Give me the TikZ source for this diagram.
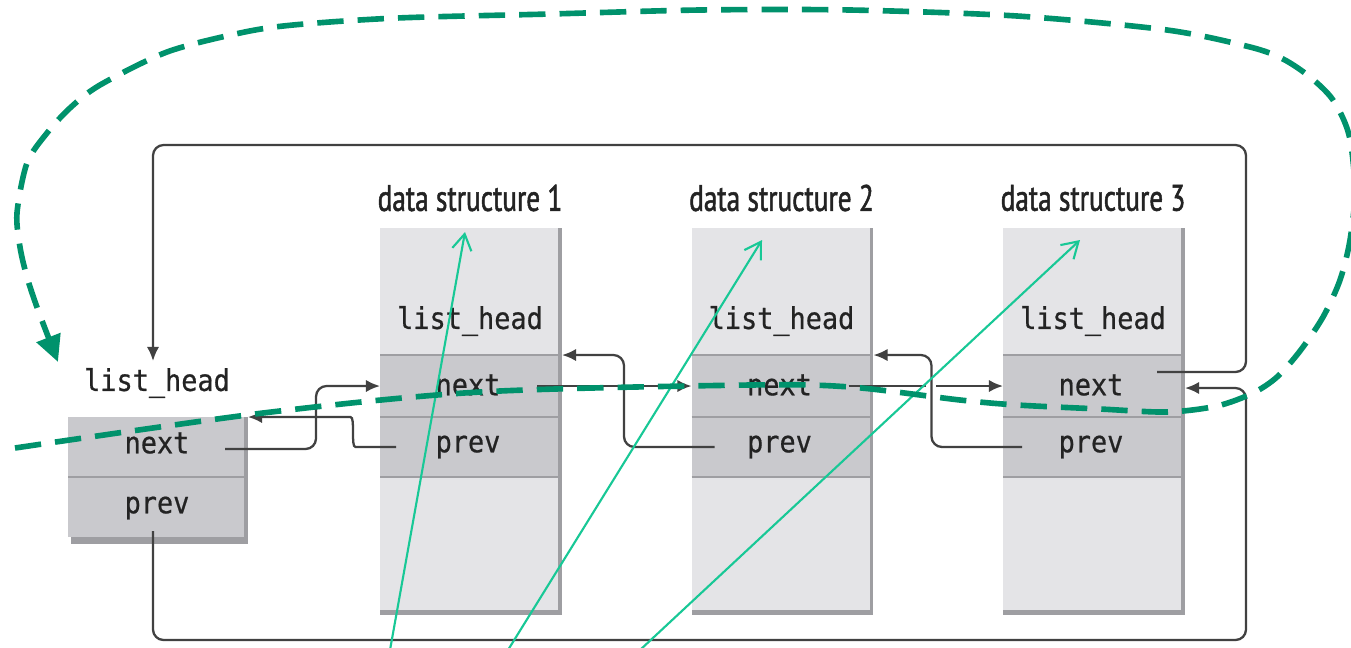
\documentclass[tikz,border=0pt]{standalone}
\usepackage{fontspec}
\usetikzlibrary{arrows.meta,calc}
\newfontfamily\monof[FakeStretch=0.9,FakeBold=0.6]{DejaVu Sans Mono}
\newfontfamily\condf[FakeStretch=0.74,FakeBold=1.3]{PT Sans}
\definecolor{dgreen}{RGB}{0,146,108}
\definecolor{lgreen}{RGB}{24,200,150}
\definecolor{boxlight}{RGB}{228,228,231}
\definecolor{boxdark}{RGB}{201,201,205}
\definecolor{boxedge}{RGB}{158,158,162}
\definecolor{txtc}{RGB}{35,35,35}
\definecolor{conncol}{RGB}{65,65,65}
\begin{document}
\begin{tikzpicture}[x=0.02cm,y=-0.02cm,
  sect/.style={draw=none, fill=#1, minimum width=3.64cm, inner sep=0pt, outer sep=0pt},
  mono/.style={font=\fontsize{17}{20}\selectfont\monof, text=txtc, inner sep=0pt},
  title/.style={font=\fontsize{21}{24}\selectfont\condf, text=txtc, inner sep=0pt},
  divider/.style={draw=boxedge, line width=1.6pt},
  conn/.style={draw=conncol, line width=1.3pt, -{Latex[length=8pt,width=7pt]}},
  loopline/.style={draw=conncol, line width=1.3pt, rounded corners=6pt},
  gline/.style={draw=lgreen, line width=1.2pt, -{Straight Barb[length=9pt,width=11pt]}},
  dline/.style={draw=dgreen, line width=3.2pt, dash pattern=on 15pt off 8pt, -{Triangle[length=15pt,width=14pt]}}
]
\useasboundingbox (0,0) rectangle (1351,647);
\fill[white] (0,0) rectangle (1351,647);

% data structures
\foreach \i/\cx in {1/471,2/782.5,3/1094}{
  \node[sect=boxlight, minimum height=2.54cm] (h\i) at (\cx,291.5) {};
  \node[sect=boxdark, minimum height=1.24cm] (n\i) at (\cx,386) {};
  \node[sect=boxdark, minimum height=1.2cm] (p\i) at (\cx,447) {};
  \node[sect=boxlight, minimum height=2.66cm] (b\i) at (\cx,543.5) {};
  \draw[divider] (n\i.north west) -- (n\i.north east);
  \draw[divider] (p\i.north west) -- (p\i.north east);
  \draw[divider] (b\i.north west) -- (b\i.north east);
  \draw[boxedge, line width=2pt] ([xshift=-1pt]h\i.north east) -- ([xshift=-1pt]b\i.south east);
  \fill[boxedge] (b\i.south west) rectangle ($(b\i.south east)+(0,5)$);
  \node[title] (t\i) at (\cx-1,198) {data structure \i};
  \node[mono] (l\i) at (\cx-1,321) {list\_head};
  \node[mono] (tn\i) at (\cx-3,385) {next};
  \node[mono] (tp\i) at (\cx-3,447) {prev};
}

% left list head
\node[sect=boxdark, minimum width=3.6cm, minimum height=1.2cm] (Ln) at (158,447) {};
\node[sect=boxdark, minimum width=3.6cm, minimum height=1.2cm] (Lp) at (158,507) {};
\draw[divider] (Lp.north west) -- (Lp.north east);
\draw[boxedge, line width=2pt] ([xshift=-1pt]Ln.north east) -- ([xshift=-1pt]Lp.south east);
\fill[boxedge] ($(Lp.south west)+(3,0)$) rectangle ($(Lp.south east)+(0,7)$);
\node[mono] (Lh) at (157,383) {list\_head};
\node[mono] (Ltn) at (157,443) {next};
\node[mono] (Ltp) at (157,508) {prev};

% outer loop lines
\coordinate (topin) at (153,361);
\draw[loopline, -{Latex[length=8pt,width=7pt]}] ($(n3.center)+(63,-14)$) -| (1246,145) -| (topin);
\draw[loopline, -{Latex[length=8pt,width=7pt]}] ($(Lp.south)+(-5,-6)$) |- (1246,640) |- ($(n3.east)+(0,2)$);

% next/prev connectors
\draw[conn, rounded corners=6pt] ($(Ln.center)+(67,2)$) -| ($(n1.west)+(-64,0)$) -- (n1.west);
\draw[conn, rounded corners=6pt] ($(p1.center)+(-75,0)$) -- (366,447) to[out=180,in=0] (340,417) -- (Ln.north east);
\draw[conn] ($(n1.center)+(66,0)$) -- (n2.west);
\draw[white, line width=6pt] (624,372) -- (624,400);
\draw[conn, rounded corners=6pt] ($(p2.center)+(-68,0)$) -| ($(n1.north east)+(62,0)$) -- (n1.north east);
\draw[conn] ($(n2.center)+(66,0)$) -- (n3.west);
\draw[white, line width=6pt] (931,372) -- (931,400);
\draw[conn, rounded corners=6pt] ($(p3.center)+(-72,0)$) -| ($(n2.north east)+(58,0)$) -- (n2.north east);

% light green arrows
\coordinate (g1s) at (390,650);
\coordinate (g2s) at (508,650);
\coordinate (g3s) at (640,650);
\coordinate (g1e) at (465,232);
\coordinate (g2e) at (762,240);
\coordinate (g3e) at (1080,240);
\draw[gline] (g1s) -- (g1e);
\draw[gline] (g2s) -- (g2e);
\draw[gline] (g3s) -- (g3e);

% dashed green loop
\draw[dline] plot[smooth, tension=0.5] coordinates {
 (15,448) (263,413) (480,392) (750,385) (850,387) (960,400) (1017,405) (1100,409)
 (1167,412) (1217,406) (1253,393) (1277,377) (1300,351) (1323,317) (1340,280)
 (1350,240) (1355,190) (1349,135) (1333,100) (1310,77) (1283,59) (1250,47)
 (1167,30) (1017,16) (850,10) (700,10) (550,14) (397,18) (293,25) (240,33)
 (167,52) (100,85) (70,108) (47,133) (27,163) (17,213) (20,247) (27,277) (38,310) (58,362)};
\end{tikzpicture}
\end{document}
